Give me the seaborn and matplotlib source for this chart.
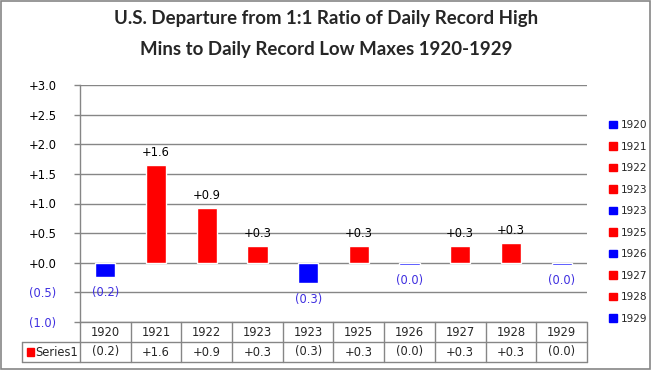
import numpy as np
import pandas as pd
import matplotlib
matplotlib.use("Agg")
import matplotlib.pyplot as plt
import matplotlib.transforms as mtransforms
from matplotlib.patches import Patch, Rectangle
from matplotlib.lines import Line2D
import seaborn as sns

# data
years = ["1920", "1921", "1922", "1923", "1923", "1925", "1926", "1927", "1928", "1929"]
values = [-0.24, 1.65, 0.92, 0.28, -0.35, 0.28, -0.03, 0.28, 0.33, -0.03]
table_labels = ["(0.2)", "+1.6", "+0.9", "+0.3", "(0.3)", "+0.3", "(0.0)", "+0.3", "+0.3", "(0.0)"]
yticks = [-1.0, -0.5, 0.0, 0.5, 1.0, 1.5, 2.0, 2.5, 3.0]

RED = "#FF0000"
BLUE = "#0000FF"
NEG_TXT = "#3F2FE0"
GRID = "#868686"
FS = 8.3

df = pd.DataFrame({"key": [str(i) for i in range(len(years))],
                   "year": years, "value": values})
colors = [RED if v > 0 else BLUE for v in values]

sns.set_theme(style="white")
plt.rcParams["font.family"] = ["DejaVu Sans"]

fig = plt.figure(figsize=(6.52, 3.70), dpi=100)
ax = fig.add_axes([80 / 652, 48 / 370, 507 / 652, 237 / 370])

sns.barplot(data=df, x="key", y="value", hue="key", palette=colors,
            width=0.4, legend=False, ax=ax, saturation=1, zorder=3)

ax.set_ylim(-1.0, 3.0)
ax.set_xlim(-0.5, len(years) - 0.5)
ax.set_yticks(yticks)
ax.set_yticklabels([f"+{t:.1f}" if t >= 0 else f"({abs(t):.1f})" for t in yticks],
                   fontsize=FS)
for t, lab in zip(yticks, ax.get_yticklabels()):
    lab.set_color(NEG_TXT if t < 0 else "black")
ax.tick_params(axis="y", length=4, width=1, color=GRID, pad=13, left=True)
ax.set_xticks([])
ax.set_xlabel("")
ax.set_ylabel("")
for t in yticks:
    ax.axhline(t, color=GRID, lw=1, zorder=0)
for s in ["top", "right", "bottom"]:
    ax.spines[s].set_visible(False)
ax.spines["left"].set_color(GRID)
ax.spines["left"].set_linewidth(1)

# data labels
for i, v in enumerate(values):
    if v > 0:
        ax.annotate(table_labels[i], (i, v), xytext=(0, 9), textcoords="offset points",
                    ha="center", va="center", fontsize=FS, color="black")
    else:
        ax.annotate(table_labels[i], (i, v), xytext=(0, -11.5), textcoords="offset points",
                    ha="center", va="center", fontsize=FS, color=NEG_TXT)

# data table under the plot
trans = mtransforms.blended_transform_factory(ax.transData, ax.transAxes)
rh = 20 / 237
n = len(years)
lab_left = -0.5 - 58 / 50.7
kw = dict(transform=trans, color=GRID, lw=1, clip_on=False)
ax.add_line(Line2D([-0.5, n - 0.5], [0, 0], **kw))
ax.add_line(Line2D([lab_left, n - 0.5], [-rh, -rh], **kw))
ax.add_line(Line2D([lab_left, n - 0.5], [-2 * rh, -2 * rh], **kw))
ax.add_line(Line2D([lab_left, lab_left], [-rh, -2 * rh], **kw))
for i in range(n + 1):
    ax.add_line(Line2D([i - 0.5, i - 0.5], [0, -2 * rh], **kw))
for i in range(n):
    ax.text(i, -rh / 2, years[i], transform=trans, ha="center", va="center", fontsize=FS)
    ax.text(i, -1.5 * rh, table_labels[i], transform=trans, ha="center", va="center",
            fontsize=FS)
ax.add_patch(Rectangle((lab_left + 0.1, -1.5 * rh - 0.016), 0.13, 0.032,
                       transform=trans, color=RED, clip_on=False))
ax.text(lab_left + 0.26, -1.5 * rh, "Series1", transform=trans, ha="left", va="center",
        fontsize=FS)

# legend on the right
handles = [Patch(facecolor=c, edgecolor=c, label=y) for c, y in zip(colors, years)]
fig.legend(handles=handles, loc="upper left", bbox_to_anchor=(604 / 652, 1 - 115 / 370),
           frameon=False, fontsize=7.6, handlelength=0.7, handleheight=0.7,
           handletextpad=0.35, labelspacing=1.09, borderpad=0)

fig.suptitle("U.S. Departure from 1:1 Ratio of Daily Record High\n"
             "Mins to Daily Record Low Maxes 1920-1929",
             x=0.5, y=0.972, fontsize=13.4, fontweight="bold", family="Lato",
             linespacing=1.95)

fig.patches.append(Rectangle((0.002, 0.003), 0.995, 0.993, transform=fig.transFigure,
                             fill=False, edgecolor="#868686", lw=1.2))

fig.savefig("out.png", dpi=100)
